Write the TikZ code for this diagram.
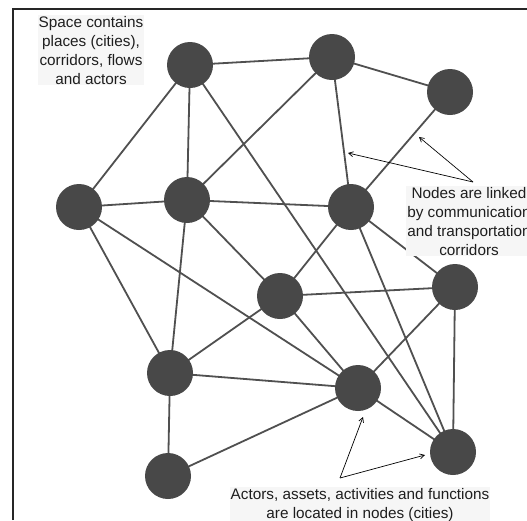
\documentclass[tikz,border=0pt]{standalone}
\usepackage{fontspec}
\setmainfont{Liberation Sans}
\usetikzlibrary{arrows.meta,backgrounds}
\definecolor{nodegray}{HTML}{484848}
\definecolor{edgegray}{HTML}{505050}
\definecolor{textgray}{HTML}{1E1E1E}
\definecolor{labelbg}{HTML}{F6F6F6}
\tikzset{
  city/.style={circle,fill=nodegray,draw=none,minimum size=46pt,inner sep=0pt},
  corridor/.style={draw=edgegray,line width=1.8pt},
  note/.style={align=center,text=textgray,inner sep=1pt,fill=labelbg,
    font=\fontsize{15.3}{19}\selectfont,anchor=north},
  pointer/.style={draw=black,line width=0.7pt,-{Straight Barb[length=4.5pt,width=5pt]}},
  frameline/.style={draw=black!85,line width=1.3pt}
}
\begin{document}
\begin{tikzpicture}[x=1pt,y=-1pt]
\useasboundingbox (0,0) rectangle (527,520);

% cities
\node[city] (A) at (190,65) {};
\node[city] (B) at (332,57) {};
\node[city] (C) at (450,92) {};
\node[city] (D) at (79,207) {};
\node[city] (E) at (187,200) {};
\node[city] (F) at (351,207) {};
\node[city] (G) at (280,296) {};
\node[city] (H) at (455,287) {};
\node[city] (I) at (170,373) {};
\node[city] (J) at (358,388) {};
\node[city] (K) at (168,476) {};
\node[city] (L) at (453,452) {};

% corridors
\begin{scope}[on background layer]
\fill[white] (0,0) rectangle (527,520);
\draw[frameline] (13,520) -- (13,9) -- (530,9);
\foreach \a/\b in {A/B,A/D,A/E,A/L,B/C,B/E,B/F,C/F,D/E,D/I,D/J,E/F,E/I,E/G,
  F/G,F/H,F/L,G/H,G/I,G/J,H/J,H/L,I/J,I/K,J/K,J/L}
  \draw[corridor] (\a.center) -- (\b.center);
\end{scope}

% labels
\node[note] (t1) at (91,15) {Space contains\\places (cities),\\corridors, flows\\and actors};
\node[note] (t2) at (469,186) {Nodes are linked\\by communication\\and transportation\\corridors};
\node[note] (t3) at (360,487) {Actors, assets, activities and functions\\are located in nodes (cities)};

% pointers
\coordinate (p1) at (348,153);
\coordinate (p2) at (419,137);
\coordinate (p3) at (363,417);
\coordinate (p4) at (425,455);
\coordinate (o2) at (473,182);
\coordinate (o3) at (340,478);
\draw[pointer] (o2) -- (p1);
\draw[pointer] (o2) -- (p2);
\draw[pointer] (o3) -- (p3);
\draw[pointer] (o3) -- (p4);
\end{tikzpicture}
\end{document}
